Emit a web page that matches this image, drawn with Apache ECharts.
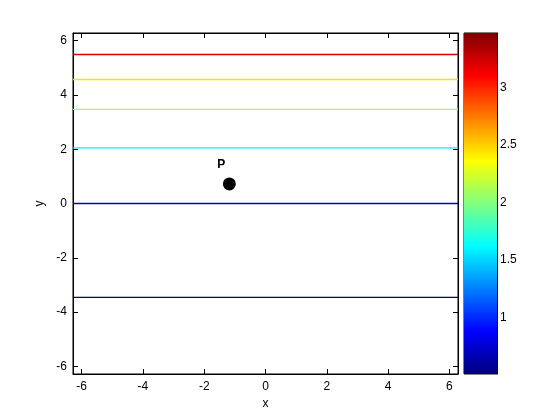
<!DOCTYPE html>
<html>
<head>
<meta charset="utf-8">
<script src="https://cdn.jsdelivr.net/npm/echarts@6/dist/echarts.min.js"></script>
<style>html,body{margin:0;padding:0;background:#fff;}#c{width:560px;height:420px;}</style>
</head>
<body>
<div id="c"></div>
<script>
// ---- data ----
var contourY = [-3.46, 0, 2.05, 3.47, 4.57, 5.49];
var contourLevels = [0.54, 0.72, 1.58, 2.1, 2.45, 3.22];
var pointP = [-1.18, 0.72];
var pointLabel = 'P';
var xTicks = [-6, -4, -2, 0, 2, 4, 6];
var yTicks = [-6, -4, -2, 0, 2, 4, 6];
var cbTicks = [1, 1.5, 2, 2.5, 3];
var cbMin = 0.511, cbMax = 3.474;
var xMin = -2 * Math.PI, xMax = 2 * Math.PI;
var yMin = -2 * Math.PI, yMax = 2 * Math.PI;

function clamp(v) { return Math.max(0, Math.min(1, v)); }
function jet(t) {
  var r = clamp(1.5 - Math.abs(4 * t - 3));
  var g = clamp(1.5 - Math.abs(4 * t - 2));
  var b = clamp(1.5 - Math.abs(4 * t - 1));
  return 'rgb(' + Math.round(r * 255) + ',' + Math.round(g * 255) + ',' + Math.round(b * 255) + ')';
}
var stops = [];
for (var i = 0; i <= 64; i++) {
  stops.push({ offset: i / 64, color: jet(1 - i / 64) });
}

var font = 'Liberation Sans, Arial, sans-serif';
var lab = { color: '#000', fontSize: 12, fontFamily: font };

var series = contourY.map(function (y, k) {
  return {
    type: 'line', xAxisIndex: 0, yAxisIndex: 0, symbol: 'none', silent: true,
    data: [[xMin, y], [xMax, y]],
    lineStyle: { width: 1.4, opacity: 1, color: jet((contourLevels[k] - cbMin) / (cbMax - cbMin)) }
  };
});
series.push({
  type: 'scatter', xAxisIndex: 0, yAxisIndex: 0, symbolSize: 13,
  itemStyle: { color: '#000', opacity: 1 },
  data: [pointP],
  label: { show: true, formatter: pointLabel, position: 'top', offset: [-8, -2],
           color: '#000', fontWeight: 'bold', fontSize: 12, fontFamily: font }
});
series.push({
  type: 'custom', xAxisIndex: 2, yAxisIndex: 2, silent: true,
  data: [[0, cbMin, 1, cbMax]],
  renderItem: function (params, api) {
    var p1 = api.coord([api.value(0), api.value(3)]);
    var p2 = api.coord([api.value(2), api.value(1)]);
    return {
      type: 'rect',
      shape: { x: p1[0], y: p1[1], width: p2[0] - p1[0], height: p2[1] - p1[1] },
      style: { fill: new echarts.graphic.LinearGradient(0, 0, 0, 1, stops) }
    };
  }
});

var chart = echarts.init(document.getElementById('c'));
chart.setOption({
  animation: false,
  backgroundColor: '#fff',
  grid: [
    { left: 73, right: 102, top: 33, bottom: 46, show: true, borderColor: '#000', borderWidth: 1, backgroundColor: '#fff' },
    { left: 464, width: 33, top: 33, bottom: 46, show: true, borderColor: '#000', borderWidth: 1 }
  ],
  xAxis: [
    { type: 'value', gridIndex: 0, min: xMin, max: xMax, name: 'x', nameLocation: 'middle', nameGap: 24,
      nameTextStyle: lab, splitLine: { show: false },
      axisLine: { show: true, onZero: false, lineStyle: { color: '#000' } },
      axisTick: { inside: true, length: 5, customValues: xTicks, lineStyle: { color: '#000' } },
      axisLabel: Object.assign({ customValues: xTicks, margin: 7 }, lab) },
    { type: 'value', gridIndex: 0, position: 'top', min: xMin, max: xMax, splitLine: { show: false },
      axisLine: { show: true, onZero: false, lineStyle: { color: '#000' } },
      axisTick: { inside: true, length: 5, customValues: xTicks, lineStyle: { color: '#000' } },
      axisLabel: { show: false } },
    { type: 'value', gridIndex: 1, min: 0, max: 1, show: false }
  ],
  yAxis: [
    { type: 'value', gridIndex: 0, min: yMin, max: yMax, name: 'y', nameLocation: 'middle', nameGap: 27,
      nameRotate: 90, nameTextStyle: lab, splitLine: { show: false },
      axisLine: { show: true, onZero: false, lineStyle: { color: '#000' } },
      axisTick: { inside: true, length: 5, customValues: yTicks, lineStyle: { color: '#000' } },
      axisLabel: Object.assign({ customValues: yTicks, margin: 6 }, lab) },
    { type: 'value', gridIndex: 0, position: 'right', min: yMin, max: yMax, splitLine: { show: false },
      axisLine: { show: true, onZero: false, lineStyle: { color: '#000' } },
      axisTick: { inside: true, length: 5, customValues: yTicks, lineStyle: { color: '#000' } },
      axisLabel: { show: false } },
    { type: 'value', gridIndex: 1, position: 'right', min: cbMin, max: cbMax, splitLine: { show: false },
      axisLine: { show: true, onZero: false, lineStyle: { color: '#000' } },
      axisTick: { inside: true, length: 4, customValues: cbTicks, lineStyle: { color: '#000' } },
      axisLabel: Object.assign({ customValues: cbTicks, margin: 3 }, lab) }
  ],
  series: series
});
</script>
</body>
</html>
